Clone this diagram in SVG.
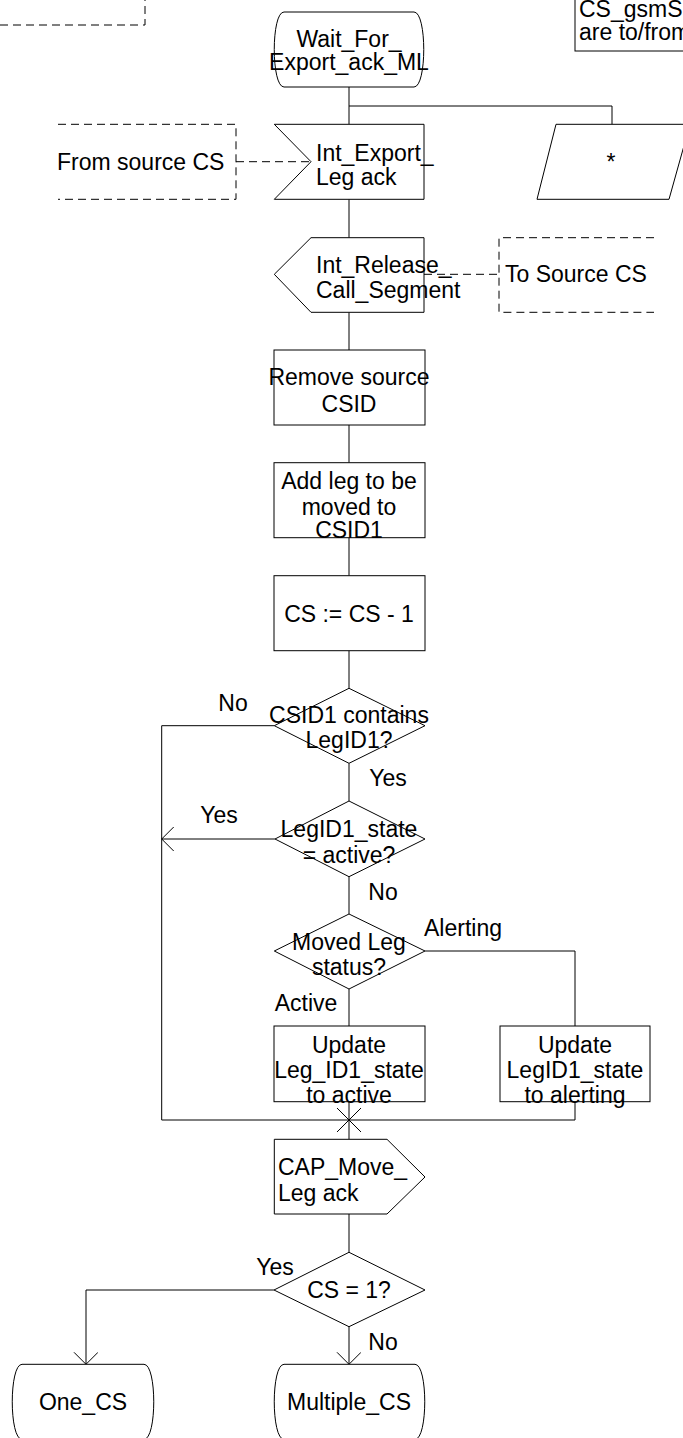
<svg xmlns="http://www.w3.org/2000/svg" width="683" height="1438" viewBox="0 0 683 1438">
<style>
.s{fill:#fff;stroke:#000;stroke-width:1}
.l{fill:none;stroke:#000;stroke-width:1}
.d{fill:none;stroke:#000;stroke-width:1;stroke-dasharray:8,5}
text{font-family:"Liberation Sans",Arial,sans-serif;font-size:23px;fill:#000}
.c{text-anchor:middle}
</style>
<defs>
<marker id="arr" markerWidth="30" markerHeight="30" refX="12" refY="12" orient="auto" markerUnits="userSpaceOnUse">
<path d="M0,0 L12,12 L0,24" fill="none" stroke="#000" stroke-width="1"/>
</marker>
</defs>
<rect width="683" height="1438" fill="#fff"/>
<g id="connectors">
<path class="l" d="M349,87 V124.3"/>
<path class="l" d="M349,106 H612 V124.3"/>
<path class="l" d="M349,199.3 V237.7"/>
<path class="l" d="M349,312.3 V350"/>
<path class="l" d="M349,425 V462.7"/>
<path class="l" d="M349,537.7 V575.7"/>
<path class="l" d="M349,650.7 V688.3"/>
<path class="l" d="M349,763.3 V801"/>
<path class="l" d="M349,876.7 V914"/>
<path class="l" d="M349,989 V1026"/>
<path class="l" d="M349,1101.7 V1139.3"/>
<path class="l" d="M349,1214 V1252.3"/>
<path class="l" d="M349,1326.7 V1364.3" marker-end="url(#arr)"/>
<path class="l" d="M274.3,725.7 H161.7 V1120 H575"/>
<path class="l" d="M275,839 H161.7" marker-end="url(#arr)"/>
<path class="l" d="M425,951 H575 V1026"/>
<path class="l" d="M575,1101.7 V1120"/>
<path class="l" d="M337,1108 L361,1132 M361,1108 L337,1132"/>
<path class="l" d="M274,1290 H86 V1364.3" marker-end="url(#arr)"/>
<path class="d" d="M236,161.7 H311"/>
<path class="d" d="M424,274.3 H499"/>
</g>
<g id="topleft_comment"><path class="d" d="M0,25 H145 V0"/></g>
<g id="note">
<rect class="s" x="575" y="-5" width="130" height="56"/>
<text x="579" y="17">CS_gsmS</text>
<text x="579" y="40">are to/from</text>
</g>
<g id="state_wait">
<path class="s" d="M284,12 H414 C427,12 427,87 414,87 H284 C271,87 271,12 284,12 Z"/>
<text class="c" x="349" y="47">Wait_For_</text>
<text class="c" x="349" y="70">Export_ack_ML</text>
</g>
<g id="input_export">
<path class="s" d="M274.3,124.3 H424 V199.3 H274.3 L311,161.7 Z"/>
<text x="316" y="161">Int_Export_</text>
<text x="316" y="185">Leg ack</text>
</g>
<g id="comment_from">
<path class="d" d="M58,124.3 H236 V199.3 H58"/>
<text x="57" y="170">From source CS</text>
</g>
<g id="save">
<path class="s" d="M556,124.3 H690 L669,199.3 H537 Z"/>
<text class="c" x="611" y="170">*</text>
</g>
<g id="output_release">
<path class="s" d="M311,237.7 H424 V312.3 H311 L274.3,274.3 Z"/>
<text x="316" y="273">Int_Release_</text>
<text x="316" y="298">Call_Segment</text>
</g>
<g id="comment_to">
<path class="d" d="M654,237.7 H499 V312.3 H654"/>
<text x="505" y="282">To Source CS</text>
</g>
<g id="task_remove">
<rect class="s" x="274" y="350" width="151" height="75"/>
<text class="c" x="349" y="385">Remove source</text>
<text class="c" x="349" y="412">CSID</text>
</g>
<g id="task_add">
<rect class="s" x="274" y="462.7" width="151" height="75"/>
<text class="c" x="349" y="489">Add leg to be</text>
<text class="c" x="349" y="515">moved to</text>
<text class="c" x="349" y="538">CSID1</text>
</g>
<g id="task_cs">
<rect class="s" x="274" y="575.7" width="151" height="75"/>
<text class="c" x="349" y="622">CS := CS - 1</text>
</g>
<g id="dec_contains">
<path class="s" d="M349,688.3 L425,725.7 L349,763.3 L274.3,725.7 Z"/>
<text class="c" x="349" y="723">CSID1 contains</text>
<text class="c" x="349" y="748">LegID1?</text>
<text class="c" x="233" y="711">No</text>
<text class="c" x="388" y="786">Yes</text>
</g>
<g id="dec_state">
<path class="s" d="M349,801 L425,839 L349,876.7 L275,839 Z"/>
<text class="c" x="349" y="837">LegID1_state</text>
<text class="c" x="349" y="863">= active?</text>
<text class="c" x="219" y="823">Yes</text>
<text class="c" x="383" y="900">No</text>
</g>
<g id="dec_moved">
<path class="s" d="M349,914 L425,951 L349,989 L274.3,951 Z"/>
<text class="c" x="349" y="950">Moved Leg</text>
<text class="c" x="349" y="975">status?</text>
<text class="c" x="463" y="936">Alerting</text>
<text class="c" x="306" y="1011">Active</text>
</g>
<g id="task_active">
<rect class="s" x="274" y="1026" width="151" height="75.7"/>
<text class="c" x="349" y="1053">Update</text>
<text class="c" x="349" y="1078">Leg_ID1_state</text>
<text class="c" x="349" y="1103">to active</text>
</g>
<g id="task_alerting">
<rect class="s" x="500" y="1026" width="150" height="75.7"/>
<text class="c" x="575" y="1053">Update</text>
<text class="c" x="575" y="1078">LegID1_state</text>
<text class="c" x="575" y="1103">to alerting</text>
</g>
<g id="output_cap">
<path class="s" d="M274.3,1139.3 H387 L425,1177 L387,1214 H274.3 Z"/>
<text x="278" y="1175">CAP_Move_</text>
<text x="278" y="1201">Leg ack</text>
</g>
<g id="dec_cs">
<path class="s" d="M349,1252.3 L425,1290 L349,1326.7 L274,1290 Z"/>
<text class="c" x="349" y="1298">CS = 1?</text>
<text class="c" x="275" y="1275">Yes</text>
<text class="c" x="383" y="1350">No</text>
</g>
<g id="state_one">
<path class="s" d="M22,1364.3 H144 C157,1364.3 157,1439.3 144,1439.3 H22 C9,1439.3 9,1364.3 22,1364.3 Z"/>
<text class="c" x="83" y="1410">One_CS</text>
</g>
<g id="state_multiple">
<path class="s" d="M284,1364.3 H415 C428,1364.3 428,1439.3 415,1439.3 H284 C271,1439.3 271,1364.3 284,1364.3 Z"/>
<text class="c" x="349" y="1410">Multiple_CS</text>
</g>
</svg>
